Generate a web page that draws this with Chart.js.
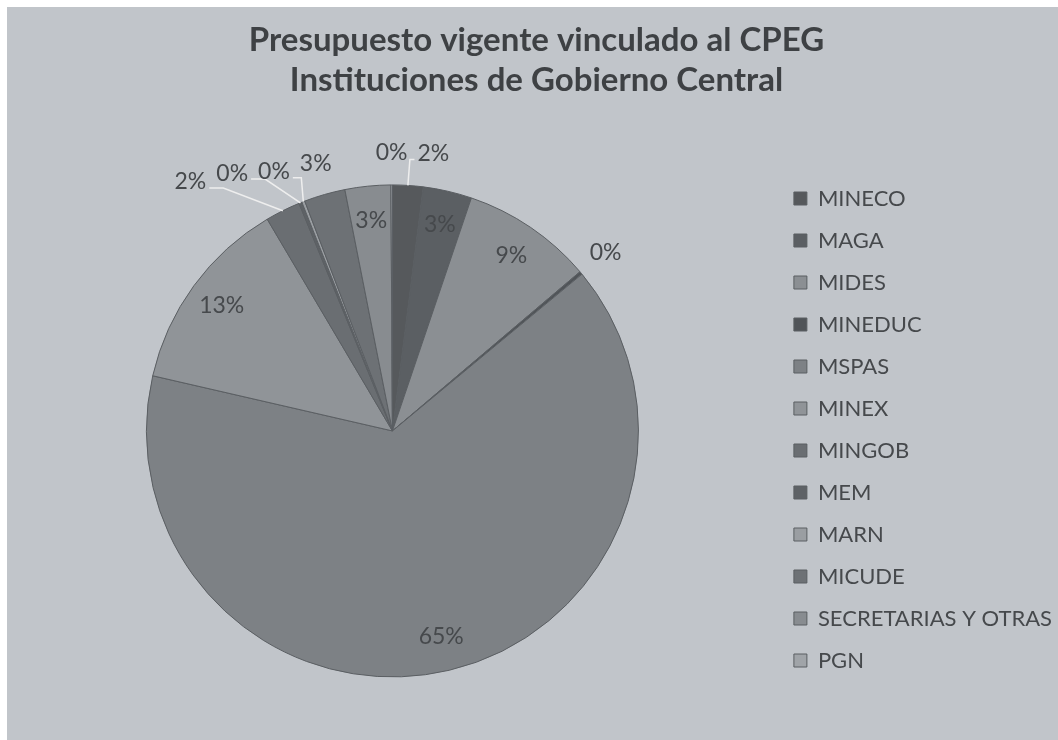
<!DOCTYPE html>
<html>
<head>
<meta charset="utf-8">
<title>Presupuesto vigente vinculado al CPEG</title>
<script src="https://cdn.jsdelivr.net/npm/chart.js@4.4.0/dist/chart.umd.min.js"></script>
<style>
	html, body { margin: 0; padding: 0; background: #fff; }
	#marco { position: absolute; left: 7px; top: 7px; width: 1051px; height: 733px; background: #c1c5ca; }
</style>
</head>
<body>
<div id="marco"><canvas id="pie-chartcanvas" width="1051" height="733"></canvas></div>
<script>
// datos (porcentaje del presupuesto)
var instituciones = ["MINECO", "MAGA", "MIDES", "MINEDUC", "MSPAS", "MINEX", "MINGOB", "MEM", "MARN", "MICUDE", "SECRETARIAS Y OTRAS", "PGN"];
var porcentajes = [2.0, 3.2, 8.6, 0.2, 64.6, 12.9, 2.3, 0.2, 0.2, 2.7, 3.0, 0.1];
var coloresSector = ["#56595c", "#5b5f63", "#8b8f93", "#505458", "#7d8185", "#909498", "#6a6e72", "#5e6266", "#9a9ea2", "#6d7175", "#888c90", "#a0a4a8"];
var tituloGrafica = ["Presupuesto vigente vinculado al CPEG", "Instituciones de Gobierno Central"];

var fuente = "Lato";

// etiquetas de porcentaje, dentro o fuera del sector con linea guia
var etiquetasPorcentaje = {
	id: "etiquetasPorcentaje",
	afterDatasetsDraw: function(chart) {
		var ctx = chart.ctx;
		var meta = chart.getDatasetMeta(0);
		var total = porcentajes.reduce(function(a, b) { return a + b; }, 0);
		var fuera = [];

		ctx.save();
		ctx.font = "23px " + fuente;
		ctx.fillStyle = "#46494c";
		ctx.textAlign = "center";
		ctx.textBaseline = "middle";

		meta.data.forEach(function(arc, i) {
			var p = arc.getProps(["x", "y", "startAngle", "endAngle", "outerRadius"], true);
			var mid = (p.startAngle + p.endAngle) / 2;
			var texto = Math.round(porcentajes[i] / total * 100) + "%";
			if (porcentajes[i] >= 2.85) {
				var rr = p.outerRadius * 0.86;
				ctx.fillText(texto, p.x + Math.cos(mid) * rr, p.y + Math.sin(mid) * rr);
			} else {
				var r2 = p.outerRadius + 32;
				var x0 = p.x + Math.cos(mid) * r2;
				fuera.push({
					texto: texto,
					x0: x0,
					x: x0,
					y: p.y + Math.sin(mid) * r2,
					ax: p.x + Math.cos(mid) * p.outerRadius,
					ay: p.y + Math.sin(mid) * p.outerRadius,
					w: ctx.measureText(texto).width,
					cx: p.x
				});
			}
		});

		// separar las etiquetas de arriba para que no se encimen
		var gap = 10;
		fuera.sort(function(a, b) { return a.x0 - b.x0; });
		var ancla = 0;
		for (var k = 1; k < fuera.length; k++) {
			if (Math.abs(fuera[k].x0 - fuera[k].cx) < Math.abs(fuera[ancla].x0 - fuera[ancla].cx)) ancla = k;
		}
		for (var j = ancla + 1; j < fuera.length; j++) {
			var minX = fuera[j - 1].x + fuera[j - 1].w / 2 + gap + fuera[j].w / 2;
			if (fuera[j].x < minX) fuera[j].x = minX;
		}
		for (var m = ancla - 1; m >= 0; m--) {
			var maxX = fuera[m + 1].x - fuera[m + 1].w / 2 - gap - fuera[m].w / 2;
			if (fuera[m].x > maxX) fuera[m].x = maxX;
		}

		fuera.forEach(function(e) {
			if (Math.abs(e.x - e.x0) > 6) {
				var hy = e.y + 6, hx, codo;
				if (e.x < e.ax) {
					hx = e.x + e.w / 2 + 3;
					codo = Math.min(hx + 14, e.ax - 2);
				} else {
					hx = e.x - e.w / 2 - 3;
					codo = Math.max(hx - 14, e.ax + 2);
				}
				ctx.strokeStyle = "#eeeeee";
				ctx.lineWidth = 1.5;
				ctx.beginPath();
				ctx.moveTo(e.ax, e.ay);
				ctx.lineTo(codo, hy);
				ctx.lineTo(hx, hy);
				ctx.stroke();
			}
			ctx.fillText(e.texto, e.x, e.y);
		});
		ctx.restore();
	}
};

var ctx = document.getElementById("pie-chartcanvas");

var data = {
	labels: instituciones,
	datasets: [
		{
			data: porcentajes,
			backgroundColor: coloresSector,
			borderColor: "#5a5e62",
			borderWidth: 1,
			radius: 246
		}
	]
};

var options = {
	responsive: false,
	animation: false,
	layout: {
		padding: { left: 4, right: -4, top: 0, bottom: 0 }
	},
	plugins: {
		title: {
			display: true,
			text: tituloGrafica,
			color: "#3e4144",
			font: { family: fuente, size: 33, weight: "bold", lineHeight: 1.21 },
			padding: { top: 13, bottom: 22 }
		},
		legend: {
			display: true,
			position: "right",
			// titulo vacio solo para bajar la columna de la leyenda
			title: {
				display: true,
				text: " ",
				font: { size: 12 },
				padding: { top: 0, bottom: 97.6 }
			},
			labels: {
				boxWidth: 13,
				boxHeight: 13,
				padding: 20,
				color: "#46494c",
				font: { family: fuente, size: 22 }
			}
		},
		tooltip: { enabled: false }
	}
};

var chart = new Chart(ctx, {
	type: "pie",
	data: data,
	options: options,
	plugins: [etiquetasPorcentaje]
});
</script>
</body>
</html>
